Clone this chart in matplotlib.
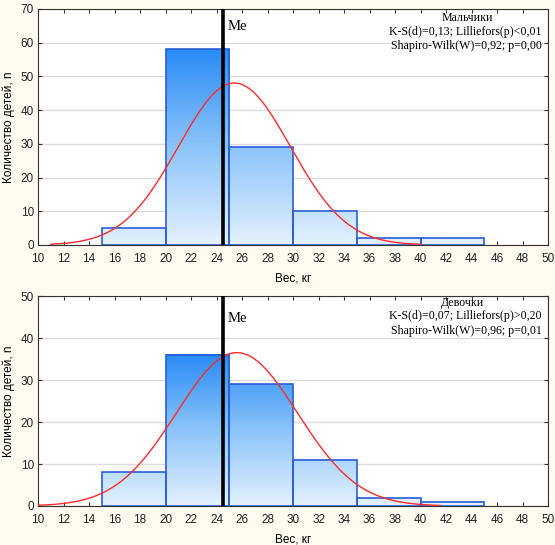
import matplotlib.pyplot as plt
import numpy as np
from matplotlib.colors import LinearSegmentedColormap

# границы интервалов веса и частоты
bin_edges = [15, 20, 25, 30, 35, 40, 45]
boys_counts = [5, 58, 29, 10, 2, 2]
girls_counts = [8, 36, 29, 11, 2, 1]

# параметры нормальной кривой (среднее, сигма, диапазон)
boys_norm = dict(mu=25.4, sigma=4.4, n=106, x0=11, x1=40)
girls_norm = dict(mu=25.6, sigma=4.75, n=87, x0=10, x1=41.5)
median = 24.5

boys_text = ["Мальчики", "K-S(d)=0,13; Lilliefors(p)<0,01", "Shapiro-Wilk(W)=0,92; p=0,00"]
girls_text = ["Девочки", "K-S(d)=0,07; Lilliefors(p)>0,20", "Shapiro-Wilk(W)=0,96; p=0,01"]

plt.rcParams["font.family"] = ["Liberation Sans", "DejaVu Sans"]

bg = "#fffbf0"
cmap = LinearSegmentedColormap.from_list("blu", ["#e4f1fd", "#8cc4fa", "#2a8cf5"])

fig = plt.figure(figsize=(5.55, 5.45), dpi=100, facecolor=bg)
ax1 = fig.add_axes([0.0685, 0.5505, 0.919, 0.433])
ax2 = fig.add_axes([0.0685, 0.0716, 0.919, 0.385])


def draw(ax, counts, norm, ymax, lines, me_y, text_y, title_x):
    ax.set_facecolor("white")
    hmax = max(counts)
    for i, h in enumerate(counts):
        l, r = bin_edges[i], bin_edges[i + 1]
        grad = np.linspace(0, h / hmax, 100)[:, None]
        ax.imshow(grad, extent=[l, r, 0, h], origin="lower", aspect="auto",
                  cmap=cmap, vmin=0, vmax=1, zorder=2)
        ax.bar(l, h, width=r - l, align="edge", fill=False,
               edgecolor="#2a5ed8", linewidth=1.2, zorder=3)
    x = np.linspace(norm["x0"], norm["x1"], 300)
    y = norm["n"] * 5 / (norm["sigma"] * np.sqrt(2 * np.pi)) * \
        np.exp(-0.5 * ((x - norm["mu"]) / norm["sigma"]) ** 2)
    ax.plot(x, y, color="#ff2a2a", linewidth=1, zorder=4)
    ax.axvline(median, color="black", linewidth=2.6, zorder=5)
    ax.set_xlim(10, 50)
    ax.set_ylim(0, ymax)
    ax.set_xticks(np.arange(10, 51, 2))
    ax.set_yticks(np.arange(0, ymax + 1, 10))
    ax.yaxis.grid(True, color="#dcdcdc", linewidth=1, zorder=0)
    ax.set_axisbelow(True)
    ax.tick_params(direction="in", length=3, top=True, right=True,
                   labelsize=8.5, colors="#333333", labelcolor="#222222", pad=3)
    ax.tick_params(axis="x", pad=6)
    for s in ax.spines.values():
        s.set_color("#333333")
    ax.set_xlabel("Вес, кг", fontsize=8.5, labelpad=5)
    ax.set_ylabel("Количество детей, n", fontsize=8.5, labelpad=4)
    ax.text(24.9, ymax * me_y, "Me", family="Liberation Serif", fontsize=10.5,
            va="center", ha="left", zorder=6)
    ax.text(title_x, text_y[0], lines[0], transform=ax.transAxes,
            family="Liberation Serif", fontsize=8.6, ha="center", va="center")
    for t, yy in zip(lines[1:], text_y[1:]):
        ax.text(0.988, yy, t, transform=ax.transAxes, family="Liberation Serif",
                fontsize=8.6, ha="right", va="center")


draw(ax1, boys_counts, boys_norm, 70, boys_text, 0.924, [0.962, 0.902, 0.843], 0.841)
draw(ax2, girls_counts, girls_norm, 50, girls_text, 0.895, [0.967, 0.905, 0.836], 0.833)

fig.savefig("out.png", dpi=100, facecolor=bg)
